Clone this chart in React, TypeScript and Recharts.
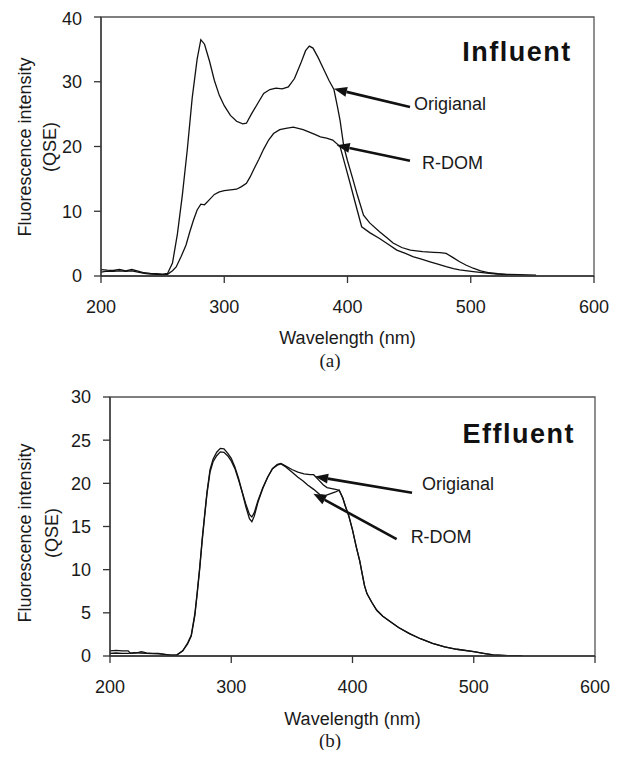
import React from 'react';
import { LineChart, Line, XAxis, YAxis, ReferenceLine, ReferenceDot, ReferenceArea, Label } from 'recharts';

const FONT = '"Liberation Sans", Arial, Helvetica, sans-serif';
const SERIF = '"Liberation Serif", "Times New Roman", serif';
const INK = '#1a1a1a';

const xTicks = [200, 300, 400, 500, 600];
const influentYTicks = [0, 10, 20, 30, 40];
const effluentYTicks = [0, 5, 10, 15, 20, 25, 30];

// (a) Influent - Origianal
const influentOriginalWl = [200, 205, 210, 215, 220, 225, 230, 235, 240, 245, 250, 254, 258, 262, 266, 270, 274, 278, 281, 284, 288, 292, 296, 300, 305, 310, 315, 318, 322, 327, 332, 337, 342, 347, 352, 357, 362, 366, 369, 372, 376, 380, 385, 389, 392, 394, 397, 400, 404, 408, 413, 418, 426, 432, 437, 444, 451, 461, 470, 475, 480, 486, 491, 496, 502, 508, 515, 522, 529, 540, 553];
const influentOriginalVal = [1.0, 0.9, 0.85, 1.0, 0.8, 1.0, 0.75, 0.5, 0.4, 0.35, 0.3, 0.4, 2.0, 6.5, 12.5, 19.5, 27.5, 33.5, 36.5, 35.8, 33.2, 30.2, 27.9, 26.3, 24.8, 23.9, 23.5, 23.6, 25.0, 26.6, 28.2, 28.8, 29.0, 28.9, 29.2, 30.5, 32.8, 34.8, 35.5, 35.2, 33.8, 32.2, 30.2, 28.8, 26.0, 24.0, 20.0, 17.8, 15.2, 12.5, 9.4, 8.2, 6.85, 5.9, 5.1, 4.4, 4.0, 3.75, 3.65, 3.6, 3.5, 2.8, 2.2, 1.7, 1.2, 0.8, 0.5, 0.35, 0.25, 0.2, 0.15];

// (a) Influent - R-DOM
const influentRdomWl = [200, 205, 210, 215, 220, 225, 230, 235, 240, 245, 250, 254, 258, 261, 265, 269, 272, 275, 278, 281, 284, 288, 292, 296, 300, 305, 310, 314, 318, 321, 324, 328, 332, 336, 340, 345, 350, 356, 360, 364, 368, 373, 378, 383, 388, 394, 398, 402, 406, 411.5, 418, 426, 433, 440, 447, 453, 460, 467, 474, 480, 486, 491, 502, 515, 522, 530];
const influentRdomVal = [0.6, 0.75, 0.7, 0.8, 0.7, 0.8, 0.6, 0.4, 0.3, 0.25, 0.2, 0.25, 0.8, 1.4, 3.0, 4.8, 6.8, 8.6, 10.2, 11.1, 11.0, 11.8, 12.6, 13.0, 13.2, 13.3, 13.4, 13.8, 14.3, 15.3, 16.5, 18.0, 19.6, 21.0, 22.0, 22.6, 22.8, 23.0, 22.8, 22.6, 22.3, 21.9, 21.5, 21.3, 21.0, 20.0, 17.2, 14.4, 11.5, 7.6, 6.7, 5.8, 4.9, 4.0, 3.5, 3.0, 2.6, 2.2, 1.8, 1.45, 1.15, 0.93, 0.67, 0.4, 0.3, 0.2];

// (b) Effluent - Origianal
const effluentOriginalWl = [200, 205, 210, 215, 217, 222, 226, 230, 235, 240, 245, 250, 255, 260, 264, 267, 270, 272, 274, 276, 278, 280, 282.5, 285, 288, 291, 294, 297, 300, 303, 306, 309, 312, 315, 317, 319, 322, 326, 330, 334, 338, 341, 345, 350, 355, 360, 365, 368, 372, 376, 379, 383, 386, 389, 392, 394, 397, 400, 403, 406, 408, 410, 412, 416, 420, 425, 431, 438, 447, 456, 466, 476, 486, 500, 508, 516, 528, 540];
const effluentOriginalVal = [0.6, 0.65, 0.6, 0.6, 0.3, 0.35, 0.5, 0.35, 0.3, 0.3, 0.2, 0.1, 0.1, 0.6, 1.5, 2.4, 4.9, 7.5, 10.3, 13.5, 16.3, 19.0, 21.6, 22.8, 23.6, 24.05, 24.0, 23.5, 22.9, 21.9, 20.6, 19.0, 17.3, 15.9, 15.55, 16.2, 17.8, 19.4, 20.7, 21.7, 22.2, 22.3, 22.0, 21.6, 21.3, 21.1, 21.0, 21.0, 20.4, 19.8, 19.5, 19.4, 19.3, 19.2, 18.3, 17.4, 16.2, 14.6, 12.7, 11.0, 9.5, 8.1, 7.2, 6.2, 5.3, 4.6, 4.0, 3.3, 2.6, 2.0, 1.47, 1.05, 0.78, 0.5, 0.3, 0.12, 0.05, 0.02];

// (b) Effluent - R-DOM
const effluentRdomWl = [200, 205, 210, 215, 220, 225, 230, 240, 245, 250, 255, 260, 264, 267, 270, 272, 274, 276, 278, 280, 282.5, 285, 288, 291, 294, 297, 300, 303, 306, 309, 312, 315, 317, 319, 322, 326, 330, 334, 338, 341, 345, 350, 355, 359, 363, 368, 373, 378, 382, 386, 389, 392, 394, 397, 400, 403, 406, 408, 410, 412, 416, 420, 425, 431, 438, 447, 456, 466, 476, 486, 500, 508, 516, 528, 540];
const effluentRdomVal = [0.3, 0.35, 0.3, 0.3, 0.4, 0.35, 0.3, 0.25, 0.2, 0.1, 0.1, 0.6, 1.4, 2.3, 4.7, 7.3, 10.1, 13.3, 16.1, 18.8, 21.3, 22.5, 23.2, 23.65, 23.6, 23.2, 22.6, 21.7, 20.4, 19.0, 17.6, 16.4, 16.1, 16.6, 18.0, 19.5, 20.7, 21.7, 22.1, 22.25, 21.9, 21.3, 20.7, 20.3, 19.8, 19.3, 18.7, 18.6, 18.8, 19.0, 19.2, 18.3, 17.4, 16.2, 14.6, 12.7, 11.0, 9.5, 8.1, 7.2, 6.2, 5.3, 4.6, 4.0, 3.3, 2.6, 2.0, 1.47, 1.05, 0.78, 0.5, 0.3, 0.12, 0.05, 0.02];

const toRows = (wl: number[], v: number[]) => wl.map((w, i) => ({ wl: w, v: v[i] }));

function arrowShape(text: string, tdx: number, tdy: number) {
  return (p: any) => {
    const x1 = Number(p.x1), y1 = Number(p.y1), x2 = Number(p.x2), y2 = Number(p.y2);
    const ang = Math.atan2(y2 - y1, x2 - x1);
    const L = 13, W = 5;
    const bx = x2 - L * Math.cos(ang), by = y2 - L * Math.sin(ang);
    const px = -Math.sin(ang) * W, py = Math.cos(ang) * W;
    return (
      <g>
        <line x1={x1} y1={y1} x2={bx} y2={by} stroke="#111" strokeWidth={2.6} />
        <polygon points={`${x2},${y2} ${bx + px},${by + py} ${bx - px},${by - py}`} fill="#111" />
        <text x={x1 + tdx} y={y1 + tdy} dy="0.35em" fontSize={18} fontFamily={FONT} fill={INK} textAnchor="start">{text}</text>
      </g>
    );
  };
}

type ArrowSpec = { from: [number, number]; to: [number, number]; text: string; tdx: number; tdy: number };

type PanelProps = {
  height: number;
  margin: { top: number; right: number; left: number; bottom: number };
  yAxisWidth: number;
  xAxisHeight: number;
  yMax: number;
  yTicks: number[];
  orig: { wl: number; v: number }[];
  rdom: { wl: number; v: number }[];
  title: string;
  titleAt: [number, number];
  arrows: ArrowSpec[];
  yTitleX: [number, number];
  yTitleCy: number;
  xTitle: [number, number];
  caption: string;
  captionAt: [number, number];
};

function Panel(props: PanelProps) {
  const { height, margin, yAxisWidth, xAxisHeight, yMax, yTicks, orig, rdom, title, titleAt, arrows, yTitleX, yTitleCy, xTitle, caption, captionAt } = props;
  const tickStyle = { fontSize: 18, fontFamily: FONT, fill: INK };
  return (
    <LineChart width={605} height={height} margin={margin}>
      <XAxis
        type="number"
        dataKey="wl"
        domain={[200, 600]}
        ticks={xTicks}
        allowDataOverflow
        height={xAxisHeight}
        tickSize={7}
        tickMargin={17}
        tick={tickStyle}
        axisLine={{ stroke: '#333', strokeWidth: 1.3 }}
        tickLine={{ stroke: '#333', strokeWidth: 1.3 }}
      >
        <Label
          content={() => (
            <g>
              <text x={xTitle[0]} y={xTitle[1]} dy="0.35em" textAnchor="middle" fontSize={18} fontFamily={FONT} fill={INK}>Wavelength (nm)</text>
              <text x={captionAt[0]} y={captionAt[1]} dy="0.35em" textAnchor="middle" fontSize={19} fontFamily={SERIF} fill={INK}>{caption}</text>
            </g>
          )}
        />
      </XAxis>
      <YAxis
        type="number"
        domain={[0, yMax]}
        ticks={yTicks}
        allowDataOverflow
        width={yAxisWidth}
        tickSize={7}
        tickMargin={12}
        tick={tickStyle}
        axisLine={{ stroke: '#333', strokeWidth: 1.3 }}
        tickLine={{ stroke: '#333', strokeWidth: 1.3 }}
      >
        <Label
          content={() => (
            <g>
              <text x={yTitleX[0]} y={yTitleCy} dy="0.35em" textAnchor="middle" fontSize={18} fontFamily={FONT} fill={INK} transform={`rotate(-90, ${yTitleX[0]}, ${yTitleCy})`}>Fluorescence intensity</text>
              <text x={yTitleX[1]} y={yTitleCy} dy="0.35em" textAnchor="middle" fontSize={18} fontFamily={FONT} fill={INK} transform={`rotate(-90, ${yTitleX[1]}, ${yTitleCy})`}>(QSE)</text>
            </g>
          )}
        />
      </YAxis>
      <ReferenceArea x1={200} x2={600} y1={0} y2={yMax} fill="none" fillOpacity={0} stroke="#555" strokeWidth={1.3} ifOverflow="visible" />
      <Line data={orig} dataKey="v" type="linear" dot={false} stroke="#111" strokeWidth={1.3} isAnimationActive={false} />
      <Line data={rdom} dataKey="v" type="linear" dot={false} stroke="#111" strokeWidth={1.3} isAnimationActive={false} />
      {arrows.map((a, i) => (
        <ReferenceLine
          key={i}
          segment={[{ x: a.from[0], y: a.from[1] }, { x: a.to[0], y: a.to[1] }]}
          ifOverflow="visible"
          shape={arrowShape(a.text, a.tdx, a.tdy)}
        />
      ))}
      <ReferenceDot
        x={titleAt[0]}
        y={titleAt[1]}
        r={0}
        ifOverflow="visible"
        shape={(p: any) => (
          <text x={p.cx} y={p.cy} dy="0.35em" textAnchor="end" fontSize={27} fontWeight="bold" letterSpacing={1.5} fontFamily={FONT} fill="#111">{title}</text>
        )}
      />
    </LineChart>
  );
}

export default function App() {
  return (
    <div style={{ width: 605 }}>
      <Panel
        height={370}
        margin={{ top: 9, right: 19, left: 0, bottom: 0 }}
        yAxisWidth={93}
        xAxisHeight={102}
        yMax={40}
        yTicks={influentYTicks}
        orig={toRows(influentOriginalWl, influentOriginalVal)}
        rdom={toRows(influentRdomWl, influentRdomVal)}
        title="Influent"
        titleAt={[582, 34.6]}
        arrows={[
          { from: [450.7, 26.1], to: [389.0, 28.9], text: 'Origianal', tdx: 4, tdy: -3 },
          { from: [450.7, 17.8], to: [391.2, 20.2], text: 'R-DOM', tdx: 12, tdy: 2 },
        ]}
        yTitleX={[17, 42]}
        yTitleCy={139}
        xTitle={[339.5, 330]}
        caption="(a)"
        captionAt={[322, 352]}
      />
      <Panel
        height={372}
        margin={{ top: 19, right: 18, left: 0, bottom: 0 }}
        yAxisWidth={102}
        xAxisHeight={94}
        yMax={30}
        yTicks={effluentYTicks}
        orig={toRows(effluentOriginalWl, effluentOriginalVal)}
        rdom={toRows(effluentRdomWl, effluentRdomVal)}
        title="Effluent"
        titleAt={[583.5, 25.8]}
        arrows={[
          { from: [449.1, 18.9], to: [369.1, 20.8], text: 'Origianal', tdx: 10, tdy: -9 },
          { from: [436.4, 13.55], to: [367.7, 18.8], text: 'R-DOM', tdx: 14, tdy: -2 },
        ]}
        yTitleX={[17, 44]}
        yTitleCy={155}
        xTitle={[344.5, 341]}
        caption="(b)"
        captionAt={[322, 362]}
      />
    </div>
  );
}
